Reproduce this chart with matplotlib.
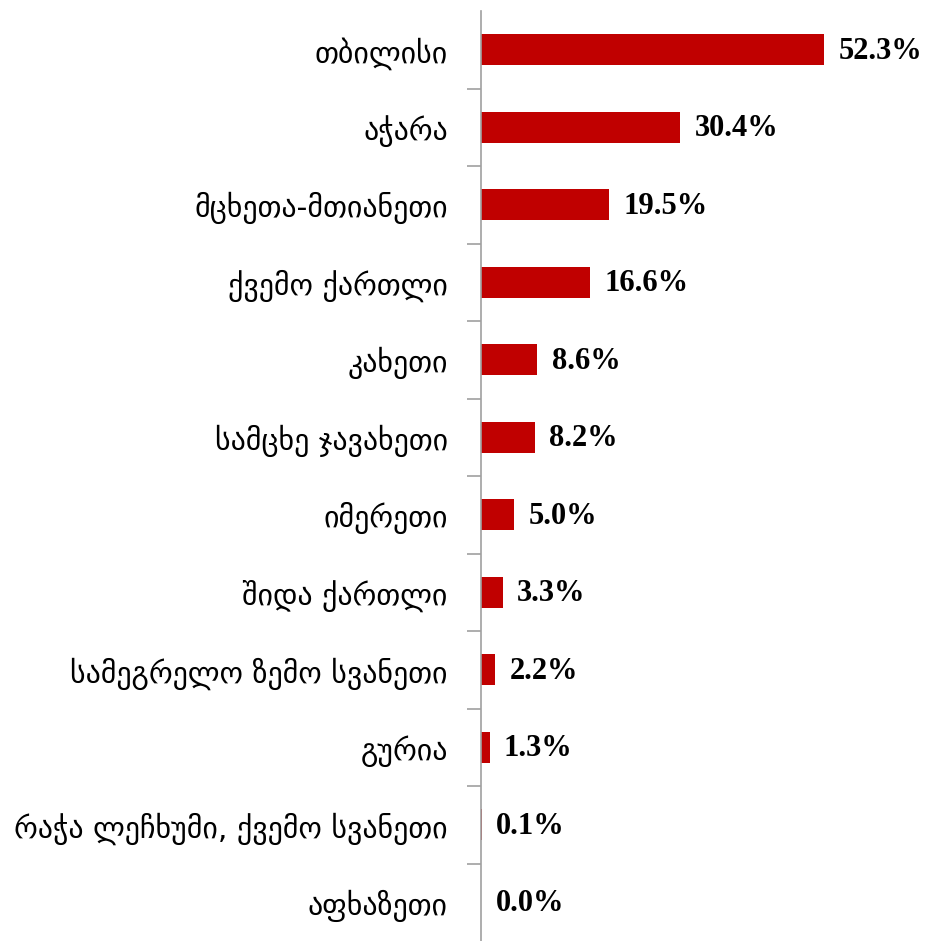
import numpy as np
import matplotlib.pyplot as plt

# -- Data ---------------------------------------------------------------------
regions = ['თბილისი', 'აჭარა', 'მცხეთა-მთიანეთი', 'ქვემო ქართლი', 'კახეთი',
           'სამცხე ჯავახეთი', 'იმერეთი', 'შიდა ქართლი',
           'სამეგრელო ზემო სვანეთი', 'გურია', 'რაჭა ლეჩხუმი, ქვემო სვანეთი',
           'აფხაზეთი']
shares = [52.3, 30.4, 19.5, 16.6, 8.6, 8.2, 5.0, 3.3, 2.2, 1.3, 0.1, 0.0]

# -- Plot ---------------------------------------------------------------------
fig = plt.figure(figsize=(9.29, 9.41), dpi=100)
ax = fig.add_axes([481 / 929, 0.0, 1 - 481 / 929, 930 / 941])

y = np.arange(len(regions))
ax.barh(y, shares, height=0.4, color='#C00000')

for yi, v in zip(y, shares):
    ax.text(v + 2.2, yi + 0.02, f'{v:.1f}%', va='center', ha='left',
            fontsize=22, fontweight='bold', family='Liberation Serif')

ax.set_xlim(0, 68.3)
ax.set_ylim(len(regions) - 0.5, -0.5)
ax.set_yticks(y)
ax.set_yticklabels(regions, fontsize=21.5, family='DejaVu Sans')
ax.tick_params(axis='y', which='major', length=0, pad=24)
ax.set_yticks(np.arange(len(regions) - 1) + 0.5, minor=True)
ax.tick_params(axis='y', which='minor', length=10, color='#A0A0A0', width=1.2)
ax.set_xticks([])

for side in ['top', 'right', 'bottom']:
    ax.spines[side].set_visible(False)
ax.spines['left'].set_color('#A0A0A0')
ax.spines['left'].set_linewidth(1.2)

fig.savefig('out.png', dpi=100)
